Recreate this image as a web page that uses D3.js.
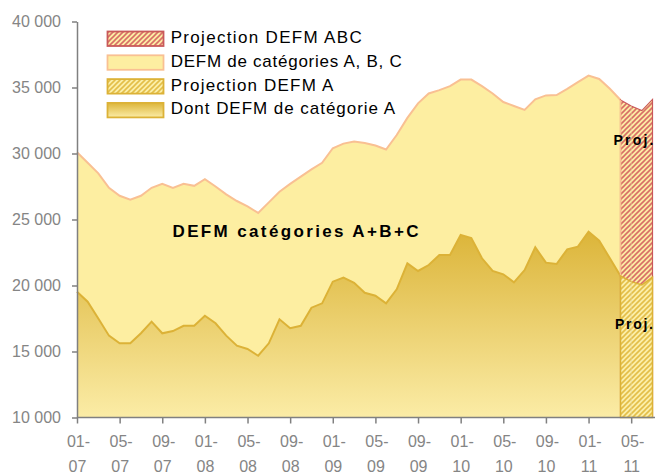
<!DOCTYPE html>
<html>
<head>
<meta charset="utf-8">
<script src="https://cdn.jsdelivr.net/npm/d3@7"></script>
<style>
  html, body { margin: 0; padding: 0; background: #fff; }
  svg { display: block; font-family: "Liberation Sans", Arial, sans-serif; }
</style>
</head>
<body>
<svg id="chart" width="655" height="473"></svg>
<script>
// ---- data ----
const tickLabels = ["01-07","05-07","09-07","01-08","05-08","09-08","01-09","05-09","09-09","01-10","05-10","09-10","01-11","05-11"];
const monthCount = 55; // 01-07 .. 07-11
const actualEnd = 51;  // 04-11 : last observed month
const defmABC = [30100,29300,28500,27400,26800,26500,26800,27400,27700,27400,
                 27700,27550,28050,27500,26900,26400,26000,25500,26300,27100,
                 27700,28250,28800,29300,30400,30750,30900,30800,30600,30300,
                 31400,32700,33800,34550,34800,35100,35600,35600,35100,34550,
                 33900,33600,33300,34100,34400,34430,34900,35400,35900,35650,
                 34900,34050];
const projABC = [34050,33600,33250,34100];
const defmA = [19530,18770,17500,16200,15620,15620,16380,17260,16380,16550,
               16950,16950,17710,17140,16200,15440,15190,14680,15620,17440,
               16760,16950,18320,18650,20290,20600,20200,19450,19230,18650,
               19710,21680,21100,21550,22310,22310,23830,23600,22060,21100,
               20850,20240,21170,22890,21730,21630,22740,22940,24080,23390,
               22060,20720];
const projA = [20720,20290,20040,20620];
const yTicks = [10000,15000,20000,25000,30000,35000,40000];
const legendItems = ["Projection DEFM ABC","DEFM de catégories A, B, C","Projection DEFM A","Dont DEFM de catégorie A"];

// ---- setup ----
const svg = d3.select("#chart");
const x = d3.scaleLinear().domain([0, monthCount - 1]).range([77, 652.5]);
const y = d3.scaleLinear().domain([10000, 40000]).range([417.5, 21.5]);

const defs = svg.append("defs");
const grad = defs.append("linearGradient").attr("id","gradA")
  .attr("gradientUnits","userSpaceOnUse").attr("x1",0).attr("x2",0)
  .attr("y1", y(24000)).attr("y2", y(10000));
grad.append("stop").attr("offset","0%").attr("stop-color","#dcb53a");
grad.append("stop").attr("offset","100%").attr("stop-color","#fbeca6");

const gradL = defs.append("linearGradient").attr("id","gradLeg")
  .attr("x1",0).attr("x2",0).attr("y1",0).attr("y2",1);
gradL.append("stop").attr("offset","0%").attr("stop-color","#dcb53a");
gradL.append("stop").attr("offset","100%").attr("stop-color","#fbeca6");

function hatch(id, bg, fg, w) {
  const p = defs.append("pattern").attr("id", id).attr("patternUnits","userSpaceOnUse")
    .attr("width", 5).attr("height", 5);
  p.append("rect").attr("width",5).attr("height",5).attr("fill",bg);
  p.append("path").attr("d","M-1,1 l2,-2 M0,5 l5,-5 M4,6 l2,-2")
    .attr("stroke", fg).attr("stroke-width", w);
}
hatch("hatchRed", "#fdeca4", "#d86e66", 1.6);
hatch("hatchYel", "#fcefa8", "#e3be48", 1.6);

// ABC area
const areaABC = d3.area().x((d,i) => x(i)).y0(y(10000)).y1(d => y(d));
svg.append("path").datum(defmABC).attr("d", areaABC).attr("fill","#fdeea1");
svg.append("path").datum(defmABC)
  .attr("d", d3.line().x((d,i) => x(i)).y(d => y(d)))
  .attr("fill","none").attr("stroke","#f9c093").attr("stroke-width",2);

// A area
svg.append("path").datum(defmA).attr("d", areaABC).attr("fill","url(#gradA)");
svg.append("path").datum(defmA)
  .attr("d", d3.line().x((d,i) => x(i)).y(d => y(d)))
  .attr("fill","none").attr("stroke","#dcb237").attr("stroke-width",2);

// projections
const areaP = d3.area().x((d,i) => x(actualEnd + i)).y0(y(10000)).y1(d => y(d));
svg.append("path").datum(projABC).attr("d", areaP)
  .attr("fill","url(#hatchRed)").attr("stroke","#c9595a").attr("stroke-width",1.2);
svg.append("line").attr("x1", x(actualEnd)).attr("x2", x(actualEnd))
  .attr("y1", y(projABC[0])).attr("y2", y(projA[0]))
  .attr("stroke","#f9c093").attr("stroke-width",1.5);
svg.append("path").datum(projA).attr("d", areaP)
  .attr("fill","url(#hatchYel)").attr("stroke","#dcb237").attr("stroke-width",1.5);
svg.append("line").attr("x1", x(actualEnd+1)).attr("x2", x(actualEnd+1))
  .attr("y1", y(projABC[1])).attr("y2", y(10000))
  .attr("stroke","#e9d9a0").attr("stroke-width",0.8).attr("opacity",0.7);

// axes
const fmt = d => String(d).replace(/(\d)(?=(\d{3})+$)/g, "$1 ");
const yAxis = svg.append("g").attr("transform", `translate(${x(0)},0)`)
  .call(d3.axisLeft(y).tickValues(yTicks).tickSize(5).tickSizeOuter(0).tickPadding(11).tickFormat(fmt));
yAxis.selectAll("text").attr("fill","#858585").style("font-size","16px");

const xAxis = svg.append("g").attr("transform", `translate(0,${y(10000)})`)
  .call(d3.axisBottom(x).tickValues(tickLabels.map((d,i) => i*4)).tickSize(6).tickSizeOuter(0).tickFormat(""));
xAxis.select(".domain").attr("d", `M${x(0)},0H655`);
xAxis.selectAll(".tick").each(function(d, i) {
  const parts = tickLabels[i].split("-");
  const t = d3.select(this).append("text").attr("fill","#858585")
    .attr("text-anchor","middle").style("font-size","16px");
  t.append("tspan").attr("x", 1).attr("y", 29).text(parts[0] + "-");
  t.append("tspan").attr("x", 0).attr("y", 54).text(parts[1]);
});
svg.selectAll(".domain, .tick line").attr("stroke","#808080").attr("stroke-width",1.5);

// labels
svg.append("text").attr("x",172.5).attr("y",236.5)
  .attr("textLength",246).attr("lengthAdjust","spacing")
  .style("font-size","17px").style("font-weight","bold").attr("fill","#000")
  .text("DEFM catégories A+B+C");
svg.append("text").attr("x",613.5).attr("y",145)
  .style("font-size","14px").style("font-weight","bold").style("letter-spacing","2.2px")
  .text("Proj.");
svg.append("text").attr("x",615).attr("y",329)
  .attr("textLength",38).attr("lengthAdjust","spacing")
  .style("font-size","14px").style("font-weight","bold")
  .text("Proj.");

// legend
const legFills = ["url(#hatchRed)","#fdeea1","url(#hatchYel)","url(#gradLeg)"];
const legStroke = ["#c9595a","#f9c093","#dcb237","#dcb237"];
const legWidths = [191, 231, 162.6, 224.3];
const leg = svg.append("g");
legendItems.forEach((name, i) => {
  const yy = 31.5 + i * 23.8;
  leg.append("rect").attr("x",107.5).attr("y",yy).attr("width",56).attr("height",14.5)
    .attr("fill",legFills[i]).attr("stroke",legStroke[i]).attr("stroke-width",1.8);
  leg.append("text").attr("x",170.7).attr("y",yy + 11.5)
    .attr("textLength",legWidths[i]).attr("lengthAdjust","spacing")
    .style("font-size","17px").attr("fill","#000").text(name);
});
</script>
</body>
</html>
